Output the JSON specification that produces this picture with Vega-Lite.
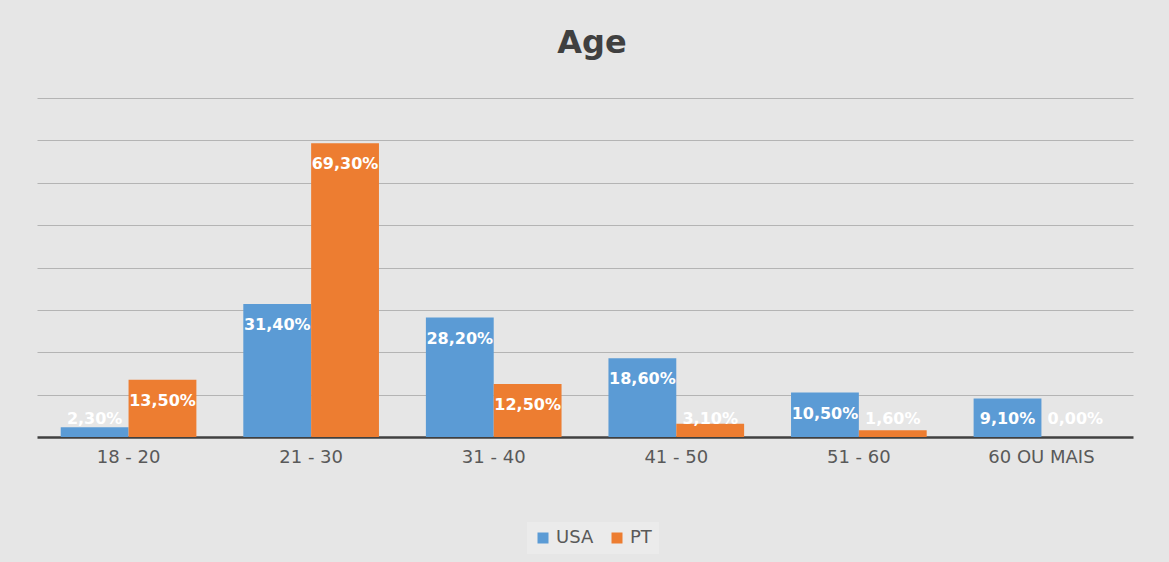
{
  "$schema": "https://vega.github.io/schema/vega-lite/v6.json",
  "width": 1096,
  "height": 339,
  "autosize": {"type": "none"},
  "padding": {"left": 37, "top": 98, "right": 36, "bottom": 125},
  "background": "#e6e6e6",
  "title": {
    "text": "Age",
    "fontSize": 32,
    "font": "DejaVu Sans",
    "fontWeight": "bold",
    "color": "#404040",
    "anchor": "middle",
    "dx": 7,
    "offset": 38
  },
  "data": {
    "values": [
      {"age": "18 - 20", "country": "USA", "value": 0.023},
      {"age": "18 - 20", "country": "PT", "value": 0.135},
      {"age": "21 - 30", "country": "USA", "value": 0.314},
      {"age": "21 - 30", "country": "PT", "value": 0.693},
      {"age": "31 - 40", "country": "USA", "value": 0.282},
      {"age": "31 - 40", "country": "PT", "value": 0.125},
      {"age": "41 - 50", "country": "USA", "value": 0.186},
      {"age": "41 - 50", "country": "PT", "value": 0.031},
      {"age": "51 - 60", "country": "USA", "value": 0.105},
      {"age": "51 - 60", "country": "PT", "value": 0.016},
      {"age": "60 OU MAIS", "country": "USA", "value": 0.091},
      {"age": "60 OU MAIS", "country": "PT", "value": 0.0}
    ]
  },
  "encoding": {
    "x": {
      "field": "age",
      "type": "nominal",
      "sort": null,
      "scale": {"paddingInner": 0.257, "paddingOuter": 0.13},
      "axis": {
        "title": null,
        "labelAngle": 0,
        "labelFont": "DejaVu Sans",
        "labelFontSize": 18,
        "labelColor": "#595959",
        "labelPadding": 11,
        "ticks": false,
        "domainColor": "#404040",
        "domainWidth": 2.5,
        "grid": false
      }
    },
    "xOffset": {
      "field": "country",
      "type": "nominal",
      "scale": {"domain": ["USA", "PT"], "paddingInner": 0, "paddingOuter": 0}
    }
  },
  "layer": [
    {
      "mark": {"type": "bar"},
      "encoding": {
        "y": {
          "field": "value",
          "type": "quantitative",
          "scale": {"domain": [0, 0.8], "nice": false},
          "axis": {
            "title": null,
            "labels": false,
            "ticks": false,
            "domain": false,
            "values": [0.1, 0.2, 0.3, 0.4, 0.5, 0.6, 0.7, 0.8],
            "gridColor": "#b4b4b4",
            "gridWidth": 1.2
          }
        },
        "color": {
          "field": "country",
          "type": "nominal",
          "scale": {"domain": ["USA", "PT"], "range": ["#5B9BD5", "#ED7D31"]},
          "legend": {
            "title": null,
            "orient": "none",
            "legendX": 490,
            "legendY": 424,
            "direction": "horizontal",
            "symbolType": "square",
            "symbolSize": 121,
            "symbolStrokeWidth": 0,
            "labelFont": "DejaVu Sans",
            "labelFontSize": 18,
            "labelColor": "#595959",
            "labelOffset": 4,
            "columnPadding": 14,
            "fillColor": "#ebebeb",
            "padding": 7
          }
        }
      }
    },
    {
      "transform": [{"calculate": "max(datum.value, 0.092)", "as": "labelPos"}],
      "mark": {
        "type": "text",
        "font": "DejaVu Sans",
        "fontWeight": "bold",
        "fontSize": 16,
        "color": "#ffffff",
        "baseline": "middle",
        "dy": 21
      },
      "encoding": {
        "y": {"field": "labelPos", "type": "quantitative"},
        "text": {"field": "value", "type": "quantitative", "format": ".2%"}
      }
    }
  ],
  "config": {
    "locale": {
      "number": {
        "decimal": ",",
        "thousands": ".",
        "grouping": [3],
        "currency": ["", " €"]
      }
    },
    "view": {"stroke": null}
  }
}
